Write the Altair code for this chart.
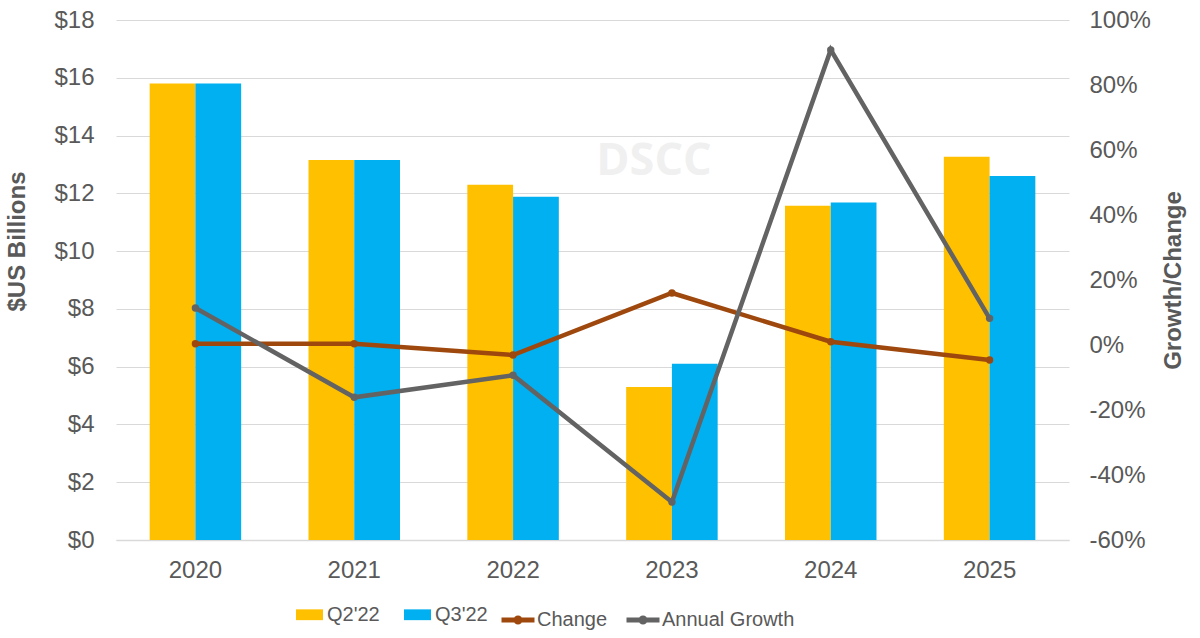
import altair as alt
import pandas as pd

# Market size by year, two forecast vintages ($US billions)
years = ["2020", "2021", "2022", "2023", "2024", "2025"]
q2_22 = [15.8, 13.15, 12.3, 5.3, 11.57, 13.27]
q3_22 = [15.8, 13.15, 11.88, 6.1, 11.68, 12.6]

# Percent series on the secondary axis
change = [0.4, 0.4, -3.1, 16.0, 1.0, -4.6]
annual_growth = [11.4, -16.1, -9.3, -48.3, 90.8, 8.2]

bar_series = ["Q2'22", "Q3'22"]
bar_colors = ["#FFC000", "#00B0F0"]
line_series = ["Change", "Annual Growth"]
line_colors = ["#9E480E", "#636363"]

FONT = "Liberation Sans"
TEXT = "#595959"
GRID = "#D9D9D9"

bars_df = pd.DataFrame(
    [{"year": y, "series": bar_series[0], "value": v} for y, v in zip(years, q2_22)]
    + [{"year": y, "series": bar_series[1], "value": v} for y, v in zip(years, q3_22)]
)
change_df = pd.DataFrame({"year": years, "series": line_series[0], "pct": change})
growth_df = pd.DataFrame({"year": years, "series": line_series[1], "pct": annual_growth})

x_scale = alt.Scale(domain=years, paddingInner=0.424, paddingOuter=0.212)
x_enc = alt.X(
    "year:N",
    scale=x_scale,
    axis=alt.Axis(
        title=None, labelAngle=0, labelFontSize=24, labelFont=FONT, labelColor=TEXT,
        ticks=False, tickSize=0, labelPadding=18, domainColor=GRID, domainWidth=1.5,
        grid=False,
    ),
)

rect_path = "M-1,-0.4H1V0.4H-1Z"
line_path = "M-1,0H1M-0.12,0A0.12,0.12 0 1,0 0.12,0A0.12,0.12 0 1,0 -0.12,0"

bars = alt.Chart(bars_df).mark_bar().encode(
    x=x_enc,
    xOffset=alt.XOffset("series:N", scale=alt.Scale(domain=bar_series, paddingInner=0, paddingOuter=0)),
    y=alt.Y(
        "value:Q",
        scale=alt.Scale(domain=[0, 18], nice=False),
        axis=alt.Axis(
            title="$US Billions", values=list(range(0, 19, 2)),
            labelExpr="'$' + datum.value", labelFontSize=24, labelFont=FONT,
            labelColor=TEXT, ticks=False, tickSize=0, labelPadding=22, domain=False,
            grid=True, gridColor=GRID, gridWidth=1.2,
            titleFont=FONT, titleFontSize=24, titleFontWeight="bold", titleColor=TEXT,
            titleAngle=-90, titleAlign="center", titleBaseline="alphabetic",
            titleX=-92, titleY=221,
        ),
    ),
    color=alt.Color(
        "series:N",
        scale=alt.Scale(domain=bar_series, range=bar_colors),
        legend=alt.Legend(
            title=None, orient="none", legendX=180, legendY=581, direction="horizontal",
            columns=2, symbolType=rect_path, symbolSize=729, symbolStrokeWidth=0,
            labelFontSize=20, labelFont=FONT, labelColor=TEXT, labelOffset=4,
            columnPadding=24,
        ),
    ),
)

pct_y = alt.Y(
    "pct:Q",
    scale=alt.Scale(domain=[-60, 100], nice=False),
    axis=alt.Axis(
        orient="right", title="Growth/Change", values=list(range(-60, 101, 20)),
        labelExpr="datum.value + '%'", labelFontSize=24, labelFont=FONT,
        labelColor=TEXT, ticks=False, tickSize=0, labelPadding=20, domain=False,
        grid=False, titleFont=FONT, titleFontSize=24, titleFontWeight="bold",
        titleColor=TEXT, titleAngle=-90, titleAlign="center",
        titleBaseline="alphabetic", titleX=111, titleY=260,
    ),
)
line_color = alt.Color(
    "series:N",
    scale=alt.Scale(domain=line_series, range=line_colors),
    legend=alt.Legend(
        title=None, orient="none", legendX=383, legendY=581, direction="horizontal",
        columns=2, symbolType=line_path, symbolSize=1089, symbolStrokeWidth=5,
        labelFontSize=20, labelFont=FONT, labelColor=TEXT, labelOffset=0,
        columnPadding=8,
    ),
)


def pct_line(df):
    return alt.Chart(df).mark_line(
        strokeWidth=4.5, point=alt.OverlayMarkDef(filled=True, size=55)
    ).encode(x=x_enc, y=pct_y, color=line_color)


lines = alt.layer(pct_line(change_df), pct_line(growth_df))

watermark = alt.Chart(pd.DataFrame({"t": ["DSCC"]})).mark_text(
    font="Open Sans", fontSize=45, fontWeight="bold", color="#F0F0F0",
    align="center", baseline="middle",
).encode(text="t:N", x=alt.value(538), y=alt.value(141))

chart = (
    alt.layer(watermark, bars, lines)
    .resolve_scale(y="independent", color="independent")
    .properties(
        width=953, height=520,
        autosize=alt.AutoSizeParams(type="none"),
        padding={"left": 116, "top": 20, "right": 131, "bottom": 98},
        background="white",
    )
    .configure_view(strokeWidth=0)
)

chart.save("out.html", embed_options={"renderer": "svg", "actions": False})
